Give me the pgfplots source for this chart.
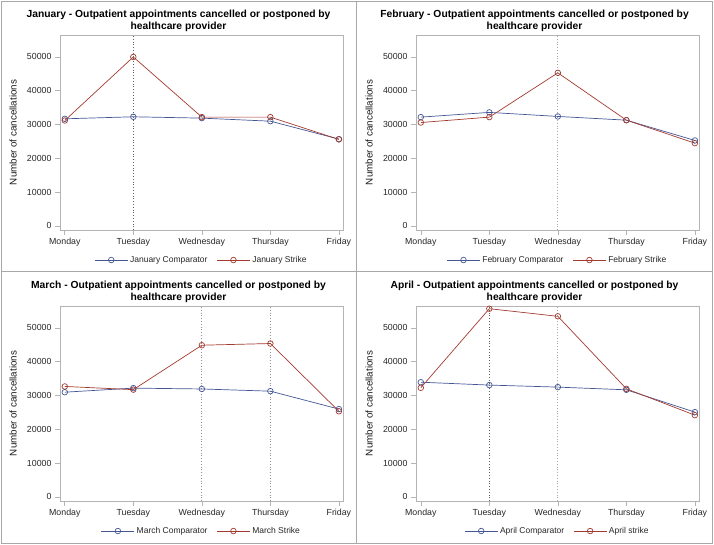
\documentclass[border=0pt]{standalone}
\usepackage{pgfplots}
\pgfplotsset{compat=1.18}
\usepackage{fontspec}
\setmainfont{Liberation Sans}
\definecolor{compc}{HTML}{445694}
\definecolor{strikec}{HTML}{A23A2E}
\definecolor{framegray}{HTML}{A8A8A8}
\definecolor{axgray}{HTML}{B4B4B4}
\definecolor{refdark}{HTML}{606060}
\definecolor{reflight}{HTML}{A8A8A8}
\definecolor{refmid}{HTML}{909090}
\pgfplotsset{
  panel/.style={
    scale only axis, width=283pt, height=195pt,
    xmin=-0.07, xmax=4.06, ymin=-1200, ymax=56500,
    xtick={0,1,2,3,4},
    xticklabels={Monday,Tuesday,Wednesday,Thursday,Friday},
    ytick={0,10000,20000,30000,40000,50000},
    scaled y ticks=false,
    yticklabel style={/pgf/number format/.cd, fixed, 1000 sep={}},
    /pgf/number format/assume math mode=true,
    xtick pos=bottom, ytick pos=left,
    tick align=outside, major tick length=5pt,
    tick style={axgray, line width=0.6pt},
    axis line style={axgray, line width=0.6pt},
    tick label style={font=\fontsize{8.8}{10}\selectfont, text=black!85},
    ylabel={Number of cancellations},
    every axis y label/.style={at={(axis description cs:-0.166,0.5)}, rotate=90, anchor=center, font=\fontsize{9.8}{11}\selectfont, text=black!90},
    legend style={draw=none, fill=none, at={(axis description cs:0.5,-0.154)}, anchor=center,
      font=\fontsize{8.5}{10}\selectfont, text=black!85, inner sep=0pt,
      /tikz/every even column/.append style={column sep=7pt}},
    legend columns=2,
    legend image code/.code={\draw[mark repeat=2,mark phase=2,##1] plot coordinates {(0pt,0pt) (16.5pt,0pt) (33pt,0pt)};},
    clip=false,
  },
  comp/.style={color=compc, line width=0.7pt, mark=o, mark size=2.8pt, mark options={line width=0.7pt}},
  strk/.style={color=strikec, line width=0.7pt, mark=o, mark size=2.8pt, mark options={line width=0.7pt}},
  refl/.style={dotted, line width=0.8pt, forget plot},
}
\tikzset{ttl/.style={align=center, font=\bfseries\fontsize{10.3}{11.7}\selectfont}}
\begin{document}
\begin{tikzpicture}[x=1pt,y=1pt]
\useasboundingbox (0,0) rectangle (714,544);
\draw[framegray, line width=0.8pt] (1,1) rectangle (712,543);
\draw[framegray, line width=0.8pt] (356.5,1) -- (356.5,543);
\draw[framegray, line width=0.8pt] (1,272.5) -- (712,272.5);
\node[ttl] at (178.5,523.0) {January - Outpatient appointments cancelled or postponed by\\healthcare provider};
\node[ttl] at (534.5,523.0) {February - Outpatient appointments cancelled or postponed by\\healthcare provider};
\node[ttl] at (178.5,252.0) {March - Outpatient appointments cancelled or postponed by\\healthcare provider};
\node[ttl] at (534.5,252.0) {April - Outpatient appointments cancelled or postponed by\\healthcare provider};

\begin{axis}[panel, at={(60pt,314pt)}, anchor=south west]
\addplot[refl, color=refdark] coordinates {(1,-1200) (1,56500)};
\addplot[comp] coordinates {(0,31700) (1,32300) (2,31900) (3,31000) (4,25700)};
\addplot[strk] coordinates {(0,31200) (1,50000) (2,32200) (3,32200) (4,25600)};
\legend{January Comparator, January Strike}
\end{axis}

\begin{axis}[panel, at={(416pt,314pt)}, anchor=south west]
\addplot[refl, color=reflight] coordinates {(2,-1200) (2,56500)};
\addplot[comp] coordinates {(0,32200) (1,33600) (2,32400) (3,31300) (4,25300)};
\addplot[strk] coordinates {(0,30600) (1,32200) (2,45300) (3,31300) (4,24500)};
\legend{February Comparator, February Strike}
\end{axis}

\begin{axis}[panel, at={(60pt,43pt)}, anchor=south west]
\addplot[refl, color=refmid] coordinates {(2,-1200) (2,56500)};
\addplot[refl, color=refmid] coordinates {(3,-1200) (3,56500)};
\addplot[comp] coordinates {(0,31000) (1,32200) (2,31950) (3,31300) (4,26000)};
\addplot[strk] coordinates {(0,32700) (1,31750) (2,44900) (3,45400) (4,25350)};
\legend{March Comparator, March Strike}
\end{axis}

\begin{axis}[panel, at={(416pt,43pt)}, anchor=south west]
\addplot[refl, color=refdark] coordinates {(1,-1200) (1,56500)};
\addplot[refl, color=reflight] coordinates {(2,-1200) (2,56500)};
\addplot[comp] coordinates {(0,33950) (1,33100) (2,32500) (3,31700) (4,25100)};
\addplot[strk] coordinates {(0,32300) (1,55700) (2,53450) (3,32000) (4,24200)};
\legend{April Comparator, April strike}
\end{axis}
\end{tikzpicture}
\end{document}
